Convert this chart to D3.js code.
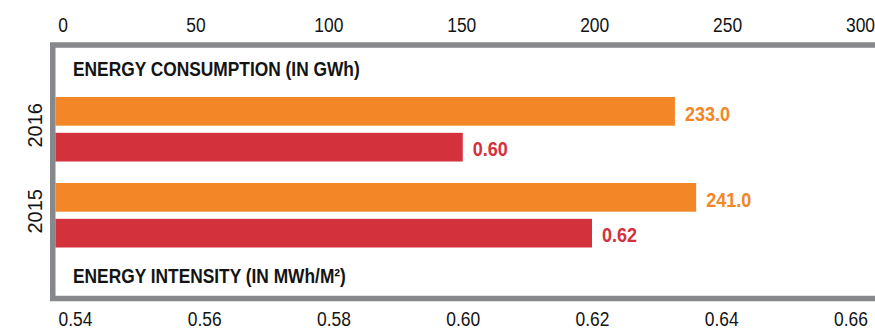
<!DOCTYPE html>
<html>
<head>
<meta charset="utf-8">
<script src="https://cdn.jsdelivr.net/npm/d3@7"></script>
<style>
  html, body { margin: 0; padding: 0; background: #fff; }
  svg { display: block; }
  text { font-family: "Liberation Sans", Arial, sans-serif; }
</style>
</head>
<body>
<svg id="chart" width="875" height="330"></svg>
<script>
// Energy figures per year
const years = ["2016", "2015"];
const consumption = [233.0, 241.0];   // GWh
const intensity = [0.60, 0.62];       // MWh/m²
const consumptionTicks = [0, 50, 100, 150, 200, 250, 300];
const intensityTicks = [0.54, 0.56, 0.58, 0.60, 0.62, 0.64, 0.66];
const seriesKeys = ["consumption", "intensity"];

const frameColor = "#87888b";
const orange = "#f38626";
const red = "#d3313c";
const ink = "#141414";
const plotLeft = 55.5;

// Horizontal squeeze giving the narrow type style
const tickSqueeze = 0.85;
const labelSqueeze = 0.9;
const titleSqueeze = 0.89;

const svg = d3.select("#chart");

// Scales
const xTop = d3.scaleLinear().domain([0, 300]).range([plotLeft, 853]);
const xBottom = d3.scaleLinear().domain([0.54, 0.66]).range([75, 850.5]);
const yGroup = d3.scaleBand().domain(years).range([97, 247.5]).paddingInner(0.25).paddingOuter(0);
const ySeries = d3.scaleBand().domain(seriesKeys).range([0, yGroup.bandwidth()]).paddingInner(0.2);

// Frame
svg.append("rect")
  .attr("x", 52.75).attr("y", 45)
  .attr("width", 900).attr("height", 253.5)
  .attr("fill", "none")
  .attr("stroke", frameColor)
  .attr("stroke-width", 5.5);

// Top axis (consumption)
const topAxis = svg.append("g")
  .attr("transform", "translate(0,32)")
  .call(d3.axisTop(xTop).tickValues(consumptionTicks).tickSize(0).tickPadding(0).tickFormat(d3.format("d")));
topAxis.select(".domain").remove();
topAxis.selectAll("text")
  .attr("x", 7 / tickSqueeze).attr("y", 0).attr("dy", 0)
  .attr("transform", `scale(${tickSqueeze},1)`)
  .attr("font-size", 20.5).attr("fill", ink)
  .style("font-family", "'Liberation Sans', Arial, sans-serif");

// Bottom axis (intensity)
const bottomAxis = svg.append("g")
  .attr("transform", "translate(0,326)")
  .call(d3.axisBottom(xBottom).tickValues(intensityTicks).tickSize(0).tickPadding(0).tickFormat(d3.format(".2f")));
bottomAxis.select(".domain").remove();
bottomAxis.selectAll("text")
  .attr("y", 0).attr("dy", 0)
  .attr("transform", `scale(${tickSqueeze},1)`)
  .attr("font-size", 20.5).attr("fill", ink)
  .style("font-family", "'Liberation Sans', Arial, sans-serif");

// Year labels
svg.selectAll("text.year")
  .data(years)
  .join("text")
  .attr("class", "year")
  .attr("transform", d => `translate(35,${yGroup(d) + yGroup.bandwidth() / 2 - 4}) rotate(-90)`)
  .attr("text-anchor", "middle")
  .attr("dominant-baseline", "central")
  .attr("font-size", 20)
  .attr("fill", ink)
  .text(d => d);

// Bars and value labels
const rows = years.map((y, i) => ({ year: y, consumption: consumption[i], intensity: intensity[i] }));

const groups = svg.selectAll("g.year-group")
  .data(rows)
  .join("g")
  .attr("class", "year-group")
  .attr("transform", d => `translate(0,${yGroup(d.year)})`);

groups.append("rect")
  .attr("x", plotLeft)
  .attr("y", ySeries("consumption"))
  .attr("width", d => xTop(d.consumption) - plotLeft)
  .attr("height", ySeries.bandwidth())
  .attr("fill", orange);

groups.append("rect")
  .attr("x", plotLeft)
  .attr("y", ySeries("intensity"))
  .attr("width", d => xBottom(d.intensity) - plotLeft)
  .attr("height", ySeries.bandwidth())
  .attr("fill", red);

groups.append("text")
  .attr("transform", d => `translate(${xTop(d.consumption) + 10},${ySeries("consumption") + ySeries.bandwidth() / 2 + 3}) scale(${labelSqueeze},1)`)
  .attr("dominant-baseline", "central")
  .attr("font-size", 20).attr("font-weight", "bold")
  .attr("fill", orange)
  .text(d => d3.format(".1f")(d.consumption));

groups.append("text")
  .attr("transform", d => `translate(${xBottom(d.intensity) + 10},${ySeries("intensity") + ySeries.bandwidth() / 2 + 2}) scale(${labelSqueeze},1)`)
  .attr("dominant-baseline", "central")
  .attr("font-size", 20).attr("font-weight", "bold")
  .attr("fill", red)
  .text(d => d3.format(".2f")(d.intensity));

// Section titles inside the frame
svg.append("text")
  .attr("transform", `translate(73,75.5) scale(${titleSqueeze},1)`)
  .attr("font-size", 19.5).attr("font-weight", "bold")
  .attr("fill", ink)
  .text("ENERGY CONSUMPTION (IN GWh)");

svg.append("text")
  .attr("transform", `translate(73,282.5) scale(${titleSqueeze},1)`)
  .attr("font-size", 19.5).attr("font-weight", "bold")
  .attr("fill", ink)
  .text("ENERGY INTENSITY (IN MWh/M²)");
</script>
</body>
</html>
